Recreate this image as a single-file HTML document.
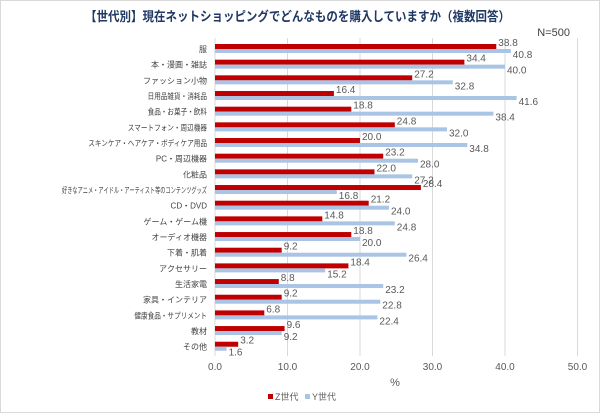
<!DOCTYPE html>
<html><head><meta charset="utf-8"><style>
body{margin:0;background:#fff;}
svg text{font-family:"Liberation Sans","Noto Sans CJK JP",sans-serif;}
</style></head><body>
<svg width="600" height="413" xmlns="http://www.w3.org/2000/svg">
<rect x="0.5" y="0.5" width="599" height="412" fill="#fff" stroke="#d9d9d9"/>
<text x="85" y="21" textLength="425" lengthAdjust="spacingAndGlyphs" font-size="13" font-weight="bold" fill="#1f3864">【世代別】現在ネットショッピングでどんなものを購入していますか（複数回答）</text>
<text x="570" y="36" text-anchor="end" font-size="11" fill="#404040">N=500</text>
<g id="chart"></g>
<text x="395" y="386" text-anchor="middle" font-size="11" fill="#595959">%</text>
<rect x="268" y="394" width="5" height="5" fill="#c00000"/>
<text x="275" y="400" font-size="9" fill="#595959">Z世代</text>
<rect x="305" y="394" width="5" height="5" fill="#a9c4e4"/>
<text x="312" y="400" font-size="9" fill="#595959">Y世代</text>
</svg>
<script>
const cats=[["服",38.8,40.8],["本・漫画・雑誌",34.4,40.0],["ファッション小物",27.2,32.8],["日用品雑貨・消耗品",16.4,41.6],["食品・お菓子・飲料",18.8,38.4],["スマートフォン・周辺機器",24.8,32.0],["スキンケア・ヘアケア・ボディケア用品",20.0,34.8],["PC・周辺機器",23.2,28.0],["化粧品",22.0,27.2],["好きなアニメ・アイドル・アーティスト等のコンテンツグッズ",28.4,16.8],["CD・DVD",21.2,24.0],["ゲーム・ゲーム機",14.8,24.8],["オーディオ機器",18.8,20.0],["下着・肌着",9.2,26.4],["アクセサリー",18.4,15.2],["生活家電",8.8,23.2],["家具・インテリア",9.2,22.8],["健康食品・サプリメント",6.8,22.4],["教材",9.6,9.2],["その他",3.2,1.6]];
const x0=215,s=7.25,NS="http://www.w3.org/2000/svg",g=document.getElementById("chart");
function el(t,a,txt){const e=document.createElementNS(NS,t);for(const k in a)e.setAttribute(k,a[k]);if(txt!==undefined)e.textContent=txt;g.appendChild(e);return e;}
for(let i=0;i<=5;i++){const x=x0+i*10*s;el("line",{x1:x,x2:x,y1:38,y2:356,stroke:"#d9d9d9","stroke-width":1});el("text",{x:x,y:370,"text-anchor":"middle","font-size":"10","fill":"#595959"},(i*10).toFixed(1));}
cats.forEach((c,i)=>{const y=49+i*15.67;
const a={x:207,y:y+3,"text-anchor":"end","font-size":"8",fill:"#404040"};
if(c[0].length>8){a.textLength=Math.min(145,c[0].length*6.6);a.lengthAdjust="spacingAndGlyphs";}
el("text",a,c[0]);
el("rect",{x:x0,y:y-5,width:c[1]*s,height:5,fill:"#c00000"});
el("rect",{x:x0,y:y,width:c[2]*s,height:4,fill:"#a9c4e4"});
el("text",{x:x0+c[1]*s+2,y:y-3,"font-size":"10",fill:"#595959"},c[1].toFixed(1));
el("text",{x:x0+c[2]*s+2,y:y+9,"font-size":"10",fill:"#595959"},c[2].toFixed(1));
});
</script>
</body></html>
